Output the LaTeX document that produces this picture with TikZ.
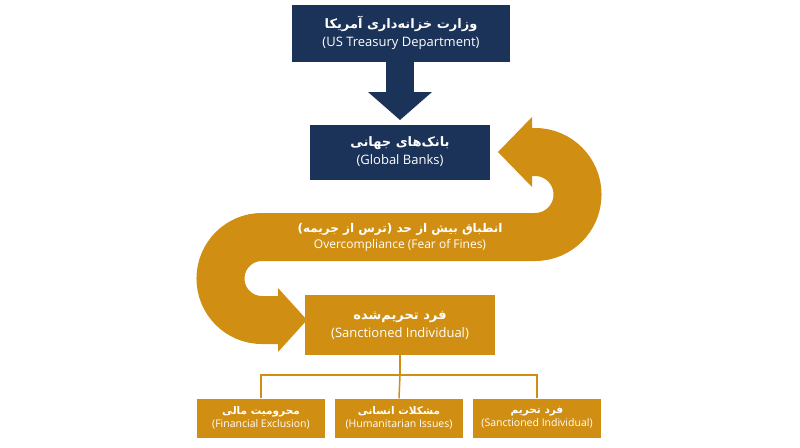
\documentclass[tikz,border=0pt]{standalone}
\usepackage{fontspec}
\setmainfont{Open Sans}
\newfontfamily\farsifont[Script=Arabic]{DejaVu Sans}
\TeXXeTstate=1
\newcommand{\fa}[1]{{\farsifont\beginR #1\endR}}
\definecolor{navy}{HTML}{1B3358}
\definecolor{gold}{HTML}{D08F12}
\begin{document}
\begin{tikzpicture}[x=1pt,y=-1pt,
  nbox/.style={fill=navy,text=white,align=center,inner sep=0pt},
  gbox/.style={fill=gold,text=white,align=center,inner sep=0pt},
  leaf/.style={gbox,minimum width=128pt,minimum height=39pt,font=\fontsize{10.5}{13}\selectfont},
  tree/.style={gold,line width=1.5pt}]
\useasboundingbox (0,0) rectangle (800,447);
\fill[white] (0,0) rectangle (800,447);
% band
\draw[gold,line width=48pt] (530,152) -- (535,152) arc (-90:90:42.5) -- (262,237) arc (-90:-270:41.5) -- (285,320);
\fill[gold] (498,152) -- (532,117) -- (532,187) -- cycle;
\fill[gold] (307,320) -- (278,288) -- (278,352) -- cycle;
\node[text=white,align=center,font=\fontsize{12}{16}\selectfont] (band) at (400,237)
  {\textbf{\fa{انطباق بیش از حد (ترس از جریمه)}}\\Overcompliance (Fear of Fines)};
% navy arrow
\fill[navy] (386,60) rectangle (414,92);
\fill[navy] (368,92) -- (432,92) -- (400,120) -- cycle;
\node[nbox,minimum width=218pt,minimum height=57pt,font=\fontsize{13}{18}\selectfont] (a) at (401,33)
  {\textbf{\fa{وزارت خزانه‌داری آمریکا}}\\(US Treasury Department)};
\node[nbox,minimum width=180pt,minimum height=55pt,font=\fontsize{13}{18}\selectfont] (b) at (400,152)
  {\textbf{\fa{بانک‌های جهانی}}\\(Global Banks)};
\node[gbox,minimum width=190pt,minimum height=60pt,font=\fontsize{13}{18}\selectfont] (c) at (400,325)
  {\textbf{\fa{فرد تحریم‌شده}}\\(Sanctioned Individual)};
\node[leaf] (l1) at (261,418) {\textbf{\fa{محرومیت مالی}}\\(Financial Exclusion)};
\node[leaf] (l2) at (399,418) {\textbf{\fa{مشکلات انسانی}}\\(Humanitarian Issues)};
\node[leaf] (l3) at (537,418) {\textbf{\fa{فرد تحریم}}\\(Sanctioned Individual)};
\coordinate (j) at (400,375);
\draw[tree] (c.south) -- (j);
\draw[tree] (l1.north) |- (j) -| (l3.north);
\draw[tree] (j) -- (l2.north);
\end{tikzpicture}
\end{document}
